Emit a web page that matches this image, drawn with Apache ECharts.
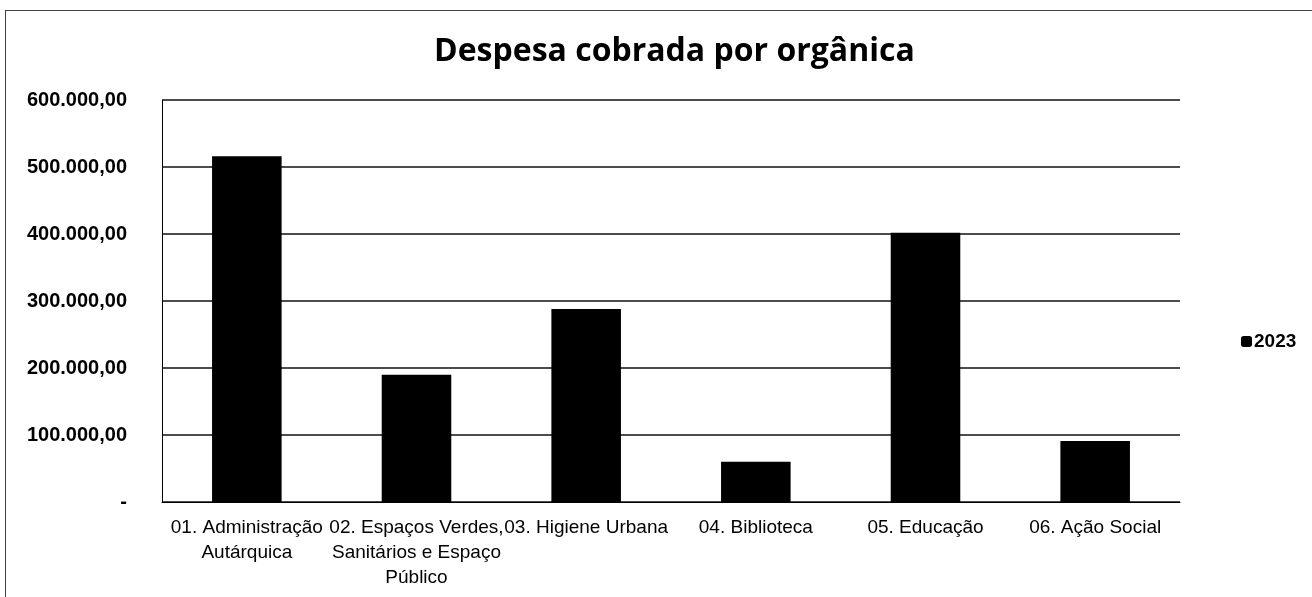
<!DOCTYPE html>
<html>
<head>
<meta charset="utf-8">
<script src="https://cdn.jsdelivr.net/npm/echarts@6/dist/echarts.min.js"></script>
<style>
  html, body { margin: 0; padding: 0; background: #fff; }
  #frame { position: absolute; left: 5px; top: 10px; width: 1320px; height: 600px; border: 1px solid #444; box-sizing: border-box; }
  #chart { position: absolute; left: 0; top: 0; width: 1312px; height: 597px; }
</style>
</head>
<body>
<div id="frame"></div>
<div id="chart"></div>
<script>
var categories = [
    '01. Administração\nAutárquica',
    '02. Espaços Verdes,\nSanitários e Espaço\nPúblico',
    '03. Higiene Urbana',
    '04. Biblioteca',
    '05. Educação',
    '06. Ação Social'
];
var values2023 = [516000, 190000, 288000, 60000, 402000, 91000];
var seriesName = '2023';

function fmt(v) {
    if (v === 0) return '-';
    var s = Math.round(v).toString().replace(/\B(?=(\d{3})+(?!\d))/g, '.');
    return s + ',00';
}

var font = '"Liberation Sans", sans-serif';
var chart = echarts.init(document.getElementById('chart'));
var option = {
    animation: false,
    title: {
        text: 'Despesa cobrada por orgânica',
        left: 429,
        top: 31,
        textStyle: { fontFamily: '"Open Sans", sans-serif', fontSize: 32, fontWeight: 'bold', color: '#000' }
    },
    legend: {
        data: [seriesName],
        orient: 'vertical',
        left: 1236,
        top: 327,
        itemWidth: 11,
        itemHeight: 11,
        itemGap: 4,
        textStyle: { fontFamily: font, fontSize: 19, fontWeight: 'bold', color: '#000', padding: [0, 0, 0, -3] }
    },
    grid: { left: 162, right: 132, top: 100, bottom: 95 },
    xAxis: {
        type: 'category',
        data: categories,
        axisLine: { show: true, lineStyle: { color: '#000', width: 1 } },
        axisTick: { show: false },
        axisLabel: {
            interval: 0,
            margin: 13,
            lineHeight: 25,
            fontFamily: font,
            fontSize: 19,
            color: '#000'
        }
    },
    yAxis: {
        type: 'value',
        min: 0,
        max: 600000,
        interval: 100000,
        axisLine: { show: true, lineStyle: { color: '#000', width: 1 } },
        axisTick: { show: false },
        splitLine: { lineStyle: { color: '#111', width: 1.5 } },
        axisLabel: {
            margin: 35,
            fontFamily: font,
            fontSize: 20,
            fontWeight: 'bold',
            color: '#000',
            formatter: fmt
        }
    },
    series: [{
        name: seriesName,
        type: 'bar',
        data: values2023,
        barWidth: '41%',
        itemStyle: { color: '#000' }
    }]
};
chart.setOption(option);
window.addEventListener('resize', function () { chart.resize(); });
</script>
</body>
</html>
